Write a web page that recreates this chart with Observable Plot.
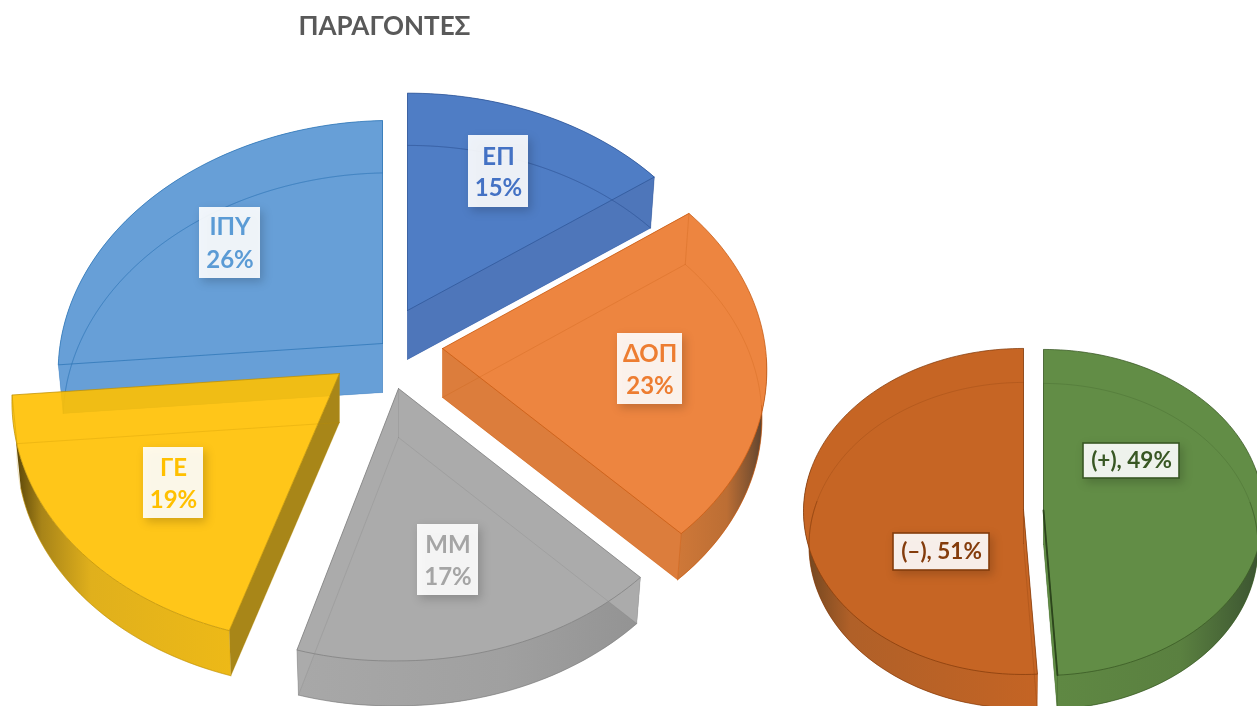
<!DOCTYPE html>
<html lang="el">
<head>
<meta charset="utf-8">
<title>ΠΑΡΑΓΟΝΤΕΣ</title>
<script src="https://cdn.jsdelivr.net/npm/d3@7"></script>
<script src="https://cdn.jsdelivr.net/npm/@observablehq/plot@0.6"></script>
<style>
  html, body { margin: 0; padding: 0; background: #fff; overflow: hidden; }
  svg { display: block; filter: blur(0.4px); }
  g[aria-label="rect"] { filter: drop-shadow(3px 4px 5px rgba(0,0,0,.2)); }
</style>
</head>
<body>
<div id="chart"></div>
<script>
// ---- data ----
const chartTitle = "ΠΑΡΑΓΟΝΤΕΣ";
const factorNames = ["ΕΠ", "ΔΟΠ", "ΜΜ", "ΓΕ", "ΙΠΥ"];
const factorValues = [15, 23, 17, 19, 26];
const signNames = ["(+)", "(–)"];
const signValues = [49, 51];

// ---- styles ----
const factorTop = ["#4F7DC5", "#ED8540", "#ABABAB", "#FFC000", "#679FD7"];
const factorText = ["#4472C4", "#ED7D31", "#A5A5A5", "#FFC000", "#5B9BD5"];
const factorLine = ["#2F5597", "#C55A11", "#7F7F7F", "#BF9000", "#2E75B6"];
const signTop = ["#628D46", "#C66524"];
const signLine = ["#385723", "#843C0C"];

// ---- layout of the exploded 3-D pies ----
const factorApexX = [407, 442, 398, 339, 382];
const factorApexY = [310, 348, 388, 373, 343];
const factorScaleY = [0.975, 0.985, 1.02, 1.01, 1];
const factorScaleX = [1, 1, 1, 1.01, 1];
const factorTurn = [-0.4, -0.5, -1.3, 0, 0];
const factorGeom = {fx: 323, fy: 243, k: 0.09, sx: 0.985, sy: 0.985, d: 49, tilt: 6};
const signApexX = [1043, 1023];
const signApexY = [510, 509];
const signGeom = {fx: 220, fy: 163, k: 0.012, sx: 0.975, sy: 1, d: 34, tilt: 0};

const factorBox = [[468, 135, 528, 207], [617, 333, 682, 404], [417, 524, 478, 595], [143, 447, 203, 518], [199, 207, 260, 278]];
const factorTextY = [[157, 188], [354, 386], [545, 577], [468, 500], [227, 260]];
const signBox = [[1083, 443, 1179, 478], [893, 533, 989, 570]];

const deg = Math.PI / 180;
const project = (g, a, th, low) => {
  const p = 1 + g.k * Math.cos(th);
  const sn = Math.sin(th);
  const dy = -a.sy * g.fy * Math.cos(th) / p + (sn < 0 ? -g.tilt * sn : 0);
  return {
    x: a.x + (low ? g.sx : 1) * a.sx * g.fx * sn / p,
    y: a.y + (low ? g.d : 0) + (low ? g.sy : 1) * dy
  };
};
const arcPoints = (g, a, a0, a1, low) => {
  const n = Math.max(2, Math.ceil(Math.abs(a1 - a0) / (1.5 * deg)));
  return d3.range(n + 1).map(i => project(g, a, a0 + (a1 - a0) * i / n, low));
};
const pie = vals => d3.pie().sort(null).startAngle(0).endAngle(2 * Math.PI)(vals);

const poly = (pts, fill, opacity = 1) =>
  Plot.line([...pts, pts[0]], {x: "x", y: "y", fill, fillOpacity: opacity, stroke: "none"});
const outline = (pts, stroke, strokeOpacity, strokeWidth = 1) =>
  Plot.line(pts, {x: "x", y: "y", stroke, strokeOpacity, strokeWidth});

function sliceMarks(g, a, arc, o) {
  const turn = (a.turn || 0) * deg;
  const a0 = arc.startAngle + (arc.startAngle > 0 ? turn : 0), a1 = arc.endAngle + (arc.endAngle < 2 * Math.PI ? turn : 0);
  const apexT = {x: a.x, y: a.y}, apexL = {x: a.x, y: a.y + g.d};
  const topArc = arcPoints(g, a, a0, a1, false);
  const lowArc = arcPoints(g, a, a0, a1, true);
  const topPoly = [apexT, ...topArc];
  const lowPoly = [apexL, ...lowArc];
  const out = [];
  if (!o.noLower) out.push(poly(lowPoly, o.lower));
  const b0 = o.band ? Math.max(o.band[0] * deg, a0) : a0, b1 = o.band ? Math.min(o.band[1] * deg, a1) : a1;
  out.push(poly([...arcPoints(g, a, b0, b1, false), ...arcPoints(g, a, b1, b0, true)], o.bandFill));
  const startCut = [apexT, topArc[0], lowArc[0], apexL];
  const endCut = [apexT, topArc[topArc.length - 1], lowArc[lowArc.length - 1], apexL];
  out.push(poly(startCut, o.startFill || o.lower));
  out.push(poly(endCut, o.endFill || o.lower));
  out.push(poly(topPoly, o.top, o.topOpacity || 1));
  out.push(outline([...lowPoly, lowPoly[0]], o.line, o.lowOpacity ?? 0.25));
  out.push(outline([lowArc[0], topArc[0]], o.line, 0.25));
  out.push(outline([lowArc[lowArc.length - 1], topArc[topArc.length - 1]], o.line, 0.4));
  out.push(outline([apexL, apexT], o.line, 0.25));
  out.push(outline(arcPoints(g, a, b0, b1, true), o.line, 0.5));
  out.push(outline([...topPoly, topPoly[0]], o.line, 0.75));
  if (o.edge) out.push(outline([apexT, topArc[topArc.length - 1]], o.edge, 1, 1.8));
  return out;
}

// gradients for the curved outer walls
const gradients = {
  gEl: [[0, "#cf7838"], [0.55, "#bc6e34"], [0.85, "#7a5030"], [1, "#4d3c30"]],
  gMM: [[0, "#a8a8a8"], [0.6, "#a0a0a0"], [1, "#939393"]],
  gGE: [[0, "#5a4508"], [0.12, "#a88418"], [0.35, "#e0b01c"], [1, "#edb917"]],
  gPl: [[0, "#5f8843"], [0.6, "#5a8040"], [1, "#3a5230"]],
  gMi: [[0, "#6e4520"], [0.2, "#b06028"], [1, "#c46424"]]
};
const defsMark = () => {
  const ns = "http://www.w3.org/2000/svg";
  const defs = document.createElementNS(ns, "defs");
  for (const [id, stops] of Object.entries(gradients)) {
    const lg = document.createElementNS(ns, "linearGradient");
    lg.setAttribute("id", id);
    for (const [o, c] of stops) {
      const st = document.createElementNS(ns, "stop");
      st.setAttribute("offset", o);
      st.setAttribute("stop-color", c);
      lg.appendChild(st);
    }
    defs.appendChild(lg);
  }
  return defs;
};

const fArcs = pie(factorValues);
const sArcs = pie(signValues);

const factorOpts = [
  {lower: "#4F7DC5", bandFill: "#4E76BA", endFill: "#4E76BA"},
  {lower: "#ED8540", bandFill: "url(#gEl)", band: [92, 136.8], endFill: "#DC7D3C"},
  {lower: "#ABABAB", bandFill: "url(#gMM)"},
  {noLower: true, bandFill: "url(#gGE)", band: [198, 256], startFill: "#A88618", endFill: "none", topOpacity: 0.9, lowOpacity: 0.25},
  {lower: "#679FD7", bandFill: "#679FD7"}
];
const signOpts = [
  {lower: "#628D46", bandFill: "url(#gPl)", band: [75, 176.4], edge: "#2c451c"},
  {lower: "#C66524", bandFill: "url(#gMi)", band: [176.4, 285]}
];

// draw order: back to front
const order = [4, 0, 1, 2, 3];
const marks = [defsMark];
for (const i of order) {
  const a = {x: factorApexX[i], y: factorApexY[i], sx: factorScaleX[i], sy: factorScaleY[i], turn: factorTurn[i]};
  marks.push(...sliceMarks(factorGeom, a, fArcs[i], {top: factorTop[i], line: factorLine[i], ...factorOpts[i]}));
}
for (const i of [1, 0]) {
  const a = {x: signApexX[i], y: signApexY[i], sx: 1, sy: 1, turn: 0};
  marks.push(...sliceMarks(signGeom, a, sArcs[i], {top: signTop[i], line: signLine[i], ...signOpts[i]}));
}

// labels
const factorRows = factorNames.map((name, i) => ({name, pct: factorValues[i] + "%", box: factorBox[i], ty: factorTextY[i], color: factorText[i]}));
const signRows = signNames.map((name, i) => ({text: `${name}, ${signValues[i]}%`, box: signBox[i], color: signLine[i]}));

marks.push(Plot.rect(factorRows, {
  x1: d => d.box[0], y1: d => d.box[1], x2: d => d.box[2], y2: d => d.box[3],
  fill: "#ffffff", fillOpacity: 0.9
}));
marks.push(Plot.rect(signRows, {
  x1: d => d.box[0], y1: d => d.box[1], x2: d => d.box[2], y2: d => d.box[3],
  fill: "#ffffff", fillOpacity: 0.9, stroke: d => d.color, strokeWidth: 1.6
}));
const textStyle = {fontSize: 24, fontWeight: 700, textAnchor: "middle", lineAnchor: "middle"};
marks.push(Plot.text(factorRows, {x: d => (d.box[0] + d.box[2]) / 2, y: d => d.ty[0], text: "name", fill: d => d.color, ...textStyle}));
marks.push(Plot.text(factorRows, {x: d => (d.box[0] + d.box[2]) / 2, y: d => d.ty[1], text: "pct", fill: d => d.color, ...textStyle}));
marks.push(Plot.text(signRows, {x: d => (d.box[0] + d.box[2]) / 2, y: d => (d.box[1] + d.box[3]) / 2, text: "text", fill: d => d.color, ...textStyle, fontSize: 22.5}));
marks.push(Plot.text([chartTitle], {x: () => 384, y: () => 26, text: d => d, fill: "#595959", fontSize: 26, fontWeight: 700, lineAnchor: "middle"}));

const chart = Plot.plot({
  width: 1257, height: 706,
  marginTop: 0, marginRight: 0, marginBottom: 0, marginLeft: 0,
  x: {axis: null, domain: [0, 1257], range: [0, 1257]},
  y: {axis: null, domain: [0, 706], range: [0, 706]},
  color: {type: "identity"},
  style: {fontFamily: "Lato, 'Open Sans', sans-serif", background: "#fff", maxWidth: "none"},
  marks
});
document.getElementById("chart").appendChild(chart);
</script>
</body>
</html>
